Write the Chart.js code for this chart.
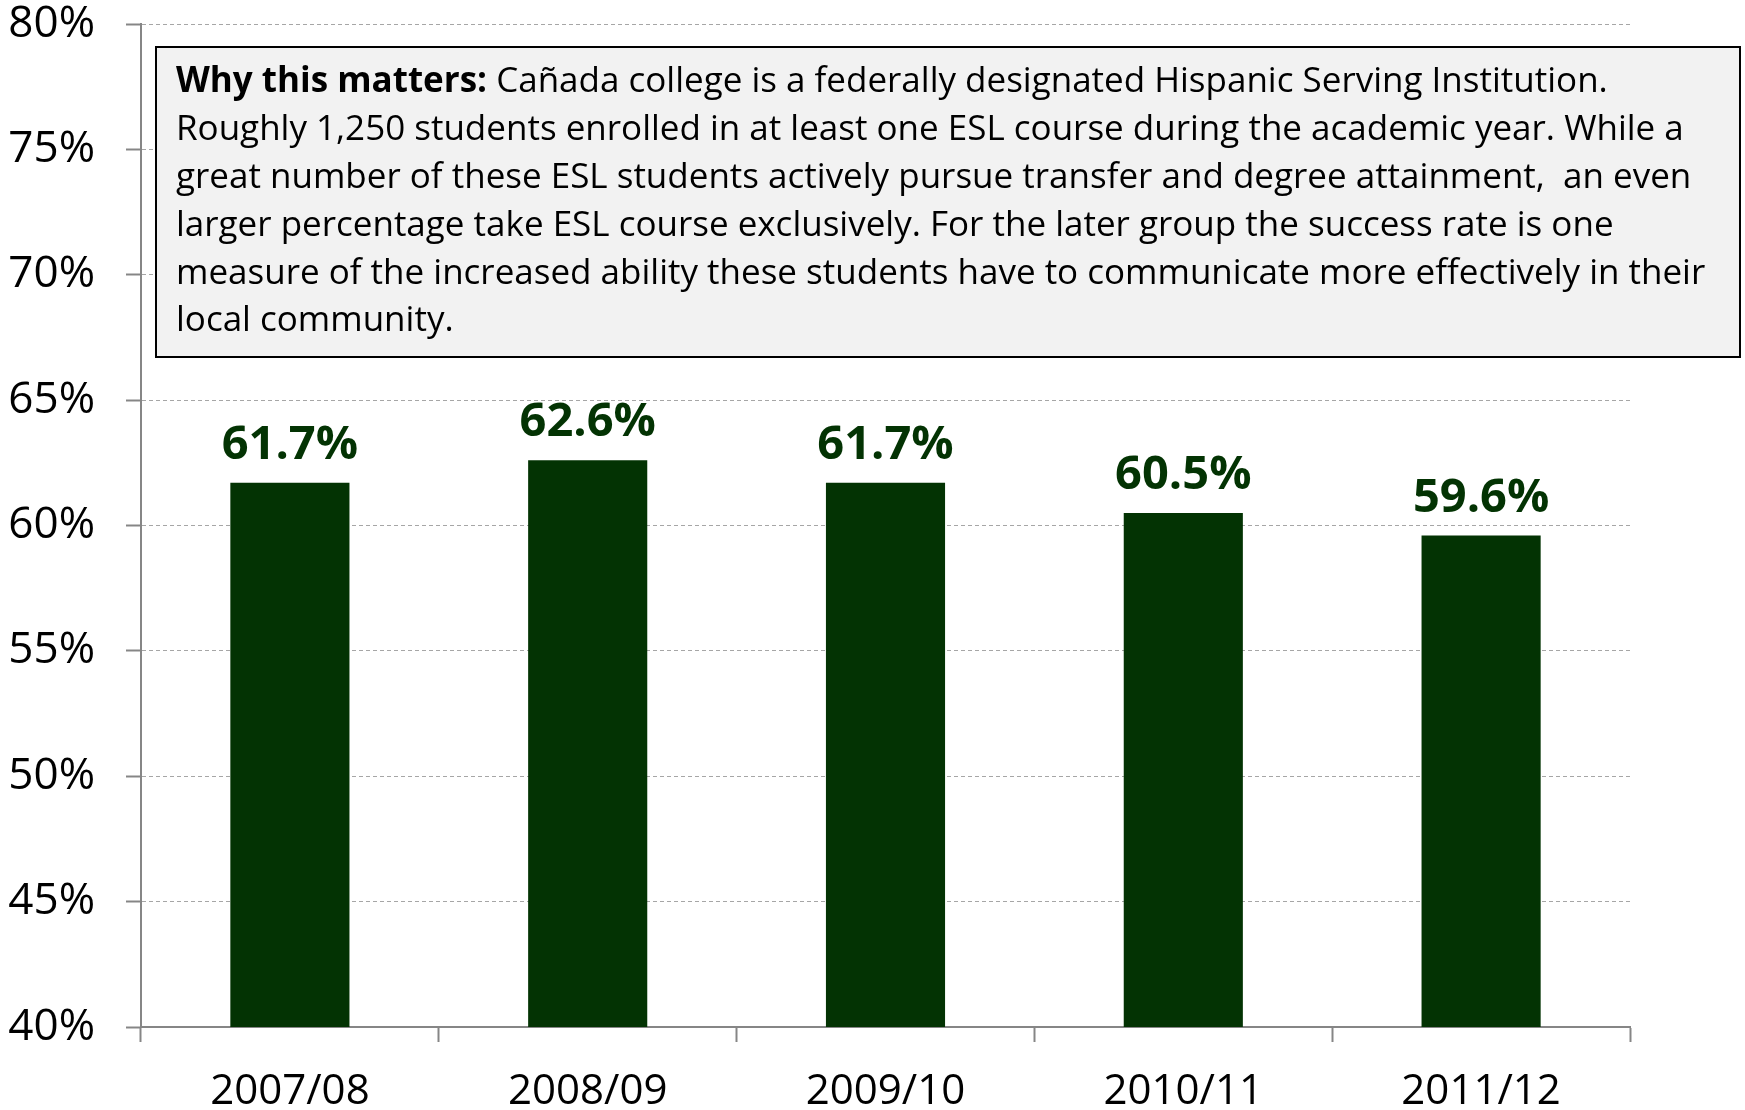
<!DOCTYPE html>
<html>
<head>
<meta charset="utf-8">
<script src="https://cdn.jsdelivr.net/npm/chart.js@4.4.0/dist/chart.umd.min.js"></script>
<style>
  html, body { margin: 0; padding: 0; background: #fff; }
  #wrap { width: 1745px; height: 1110px; }
</style>
</head>
<body>
<div id="wrap"><canvas id="chart" width="1745" height="1110"></canvas></div>
<script>
const jahre = ['2007/08', '2008/09', '2009/10', '2010/11', '2011/12'];
const erfolgsquote = [61.7, 62.6, 61.7, 60.5, 59.6];

const hinweisTitel = 'Why this matters:';
const hinweisZeilen = [
  ' Cañada college is a federally designated Hispanic Serving Institution.',
  'Roughly 1,250 students enrolled in at least one ESL course during the academic year. While a',
  'great number of these ESL students actively pursue transfer and degree attainment,  an even',
  'larger percentage take ESL course exclusively. For the later group the success rate is one',
  'measure of the increased ability these students have to communicate more effectively in their',
  'local community.'
];

const dunkelgruen = '#033303';
const schrift = "'Open Sans', 'Noto Sans', sans-serif";

// Werte über den Balken
const wertBeschriftung = {
  id: 'wertBeschriftung',
  afterDatasetsDraw(chart) {
    const ctx = chart.ctx;
    const meta = chart.getDatasetMeta(0);
    ctx.save();
    ctx.font = `bold 47px ${schrift}`;
    ctx.fillStyle = dunkelgruen;
    ctx.textAlign = 'center';
    ctx.textBaseline = 'alphabetic';
    meta.data.forEach((bar, i) => {
      ctx.fillText(erfolgsquote[i].toFixed(1) + '%', bar.x, bar.y - 24);
    });
    ctx.restore();
  }
};

// Textkasten oben
const hinweisKasten = {
  id: 'hinweisKasten',
  afterDraw(chart) {
    const ctx = chart.ctx;
    const x = 156, y = 47, w = 1584, h = 310;
    ctx.save();
    ctx.fillStyle = '#f2f2f2';
    ctx.fillRect(x, y, w, h);
    ctx.lineWidth = 2;
    ctx.strokeStyle = '#000';
    ctx.strokeRect(x, y, w, h);

    ctx.fillStyle = '#000';
    ctx.textBaseline = 'middle';
    ctx.textAlign = 'left';
    const startX = 176;
    const startY = 82;
    const zeilenAbstand = 47.9;
    hinweisZeilen.forEach((zeile, i) => {
      let tx = startX;
      const ty = startY + i * zeilenAbstand;
      if (i === 0) {
        ctx.font = `bold 35px ${schrift}`;
        ctx.fillText(hinweisTitel, tx, ty);
        tx += ctx.measureText(hinweisTitel).width;
      }
      ctx.font = `35px ${schrift}`;
      ctx.fillText(zeile, tx, ty);
    });
    ctx.restore();
  }
};

new Chart(document.getElementById('chart'), {
  type: 'bar',
  data: {
    labels: jahre,
    datasets: [{
      data: erfolgsquote,
      backgroundColor: dunkelgruen,
      borderWidth: 0,
      barPercentage: 0.4,
      categoryPercentage: 1.0
    }]
  },
  options: {
    responsive: false,
    animation: false,
    layout: { padding: { top: 24, right: 115, bottom: 0, left: 0 } },
    plugins: {
      legend: { display: false },
      tooltip: { enabled: false }
    },
    scales: {
      y: {
        min: 40,
        max: 80,
        afterFit: (scale) => {
          scale.width = 141;
          scale.paddingTop = 0;
          scale.paddingBottom = 0;
        },
        ticks: {
          stepSize: 5,
          padding: 31,
          color: '#000',
          font: { family: schrift, size: 44 },
          callback: (v) => v + '%'
        },
        grid: {
          color: '#a6a6a6',
          lineWidth: 1,
          tickLength: 15,
          tickColor: '#868686',
          tickWidth: 2,
          tickBorderDash: []
        },
        border: { color: '#868686', width: 2, dash: [4, 3] }
      },
      x: {
        afterFit: (scale) => {
          scale.height = 83;
          scale.paddingLeft = 0;
          scale.paddingRight = 0;
        },
        ticks: {
          padding: 25,
          color: '#000',
          font: { family: schrift, size: 42 }
        },
        grid: {
          offset: true,
          drawOnChartArea: false,
          tickLength: 15,
          tickColor: '#868686',
          tickWidth: 2
        },
        border: { color: '#868686', width: 2 }
      }
    }
  },
  plugins: [wertBeschriftung, hinweisKasten]
});
</script>
</body>
</html>
